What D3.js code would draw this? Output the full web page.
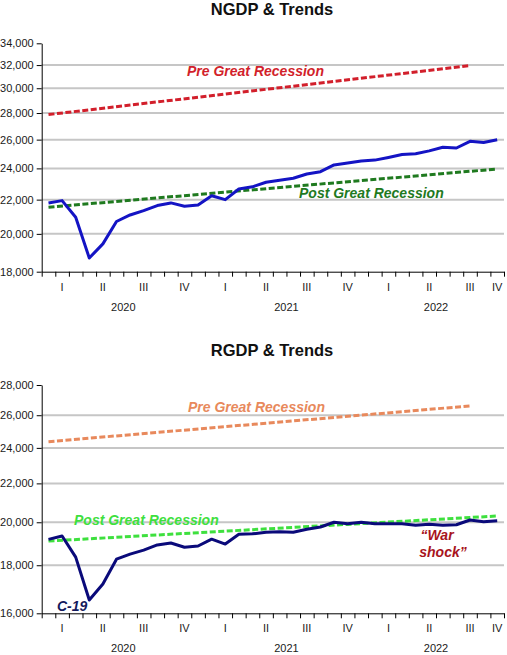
<!DOCTYPE html>
<html><head><meta charset="utf-8">
<script src="https://cdn.jsdelivr.net/npm/d3@7"></script>
<style>
body{margin:0;background:#fff;}
svg text{font-family:"Liberation Sans",Arial,sans-serif;}
</style></head>
<body>
<svg id="c" width="507" height="655"></svg>
<script>
// ---------- data ----------
const months = [
 "2020-01","2020-02","2020-03","2020-04","2020-05","2020-06","2020-07","2020-08","2020-09","2020-10","2020-11","2020-12",
 "2021-01","2021-02","2021-03","2021-04","2021-05","2021-06","2021-07","2021-08","2021-09","2021-10","2021-11","2021-12",
 "2022-01","2022-02","2022-03","2022-04","2022-05","2022-06","2022-07","2022-08","2022-09","2022-10"];
const ngdp = [21800,21940,20950,18700,19450,20700,21080,21340,21640,21800,21600,21670,
              22240,22000,22660,22800,23090,23220,23350,23630,23780,24230,24360,24500,
              24560,24740,24940,25000,25200,25450,25400,25880,25800,25990];
const rgdp = [19180,19340,18360,16530,17190,18270,18500,18680,18920,19010,18810,18870,
              19190,18960,19420,19440,19520,19540,19520,19660,19770,20000,19930,20000,
              19930,19930,19930,19850,19900,19850,19880,20110,20030,20080];
const preTrendN  = [["2020-01",27880],["2022-08",31950]];
const postTrendN = [["2020-01",21540],["2022-10",23960]];
const preTrendR  = [["2020-01",24370],["2022-08",26600]];
const postTrendR = [["2020-01",19100],["2022-10",20310]];
const ticksN = [18000,20000,22000,24000,26000,28000,30000,32000,34000];
const ticksR = [16000,18000,20000,22000,24000,26000,28000];
const quarterLabels = ["I","II","III","IV"];
const years = ["2020","2021","2022"];

// ---------- drawing ----------
const svg = d3.select("#c");
const nM = months.length;
const x = d3.scaleLinear().domain([0, nM]).range([41.7, 504]);
const mi = s => { const [y,m] = s.split("-").map(Number); return (y-2020)*12 + m - 1; };

function panel(cfg){
  const g = svg.append("g");
  const y = d3.scaleLog().domain([cfg.ticks[0], cfg.ticks[cfg.ticks.length-1]]).range([cfg.bottom, cfg.top]);
  // title
  g.append("text").attr("x",272).attr("y",cfg.titleY).attr("text-anchor","middle")
    .attr("font-size","16.5px").attr("font-weight","bold").attr("fill","#111").text(cfg.title);
  // gridlines
  g.selectAll(".grid").data(cfg.ticks.slice(1,-1)).enter().append("line")
    .attr("x1",x(0)).attr("x2",x(nM)).attr("y1",d=>y(d)).attr("y2",d=>y(d))
    .attr("stroke","#c6c6c6").attr("stroke-width",2);
  // y axis
  const ya = g.append("g").attr("transform",`translate(${x(0)},0)`)
    .call(d3.axisLeft(y).tickValues(cfg.ticks).tickFormat(d3.format(",")).tickSize(5).tickSizeOuter(0));
  ya.selectAll("text").attr("font-size","11px").attr("fill","#1a1a1a").attr("x",-8);
  ya.select(".domain").attr("stroke","#000");
  // x axis
  const xa = g.append("g").attr("transform",`translate(0,${cfg.bottom})`)
    .call(d3.axisBottom(x).tickValues(d3.range(0,nM+1)).tickFormat("").tickSize(5).tickSizeOuter(0));
  xa.select(".domain").attr("stroke","#000");
  // quarter labels
  const qs = d3.range(0, Math.ceil(nM/3)).map(q => ({q, c:(q*3 + Math.min(q*3+3,nM))/2}));
  g.selectAll(".ql").data(qs).enter().append("text")
    .attr("x",d=>x(d.c)).attr("y",cfg.bottom+19).attr("text-anchor","middle")
    .attr("font-size","11px").attr("fill","#1a1a1a").text(d=>quarterLabels[d.q%4]);
  g.selectAll(".yl").data(years).enter().append("text")
    .attr("x",(d,i)=>x((i*12 + Math.min(i*12+12,nM))/2)).attr("y",cfg.bottom+39).attr("text-anchor","middle")
    .attr("font-size","11px").attr("fill","#1a1a1a").text(d=>d);
  // trend lines
  const tl = d3.line().x(d=>x(mi(d[0])+0.5)).y(d=>y(d[1]));
  g.append("path").attr("d",tl(cfg.pre)).attr("fill","none").attr("stroke",cfg.preColor)
    .attr("stroke-width",3).attr("stroke-dasharray","6,2.5");
  g.append("path").attr("d",tl(cfg.post)).attr("fill","none").attr("stroke",cfg.postColor)
    .attr("stroke-width",3).attr("stroke-dasharray","6,2.5");
  // data line
  const dl = d3.line().x((d,i)=>x(i+0.5)).y(d=>y(d));
  g.append("path").attr("d",dl(cfg.values)).attr("fill","none").attr("stroke",cfg.lineColor)
    .attr("stroke-width",3).attr("stroke-linejoin","round");
  // labels
  cfg.labels.forEach(l=>{
    g.append("text").attr("x",l.x).attr("y",l.y).attr("text-anchor",l.anchor||"start")
      .attr("font-size",(l.size||14)+"px").attr("font-weight","bold").attr("font-style","italic")
      .attr("fill",l.color).text(l.text);
  });
}

panel({title:"NGDP & Trends", titleY:15, top:43.3, bottom:271.7, ticks:ticksN, values:ngdp,
  pre:preTrendN, post:postTrendN, preColor:"#d21f2b", postColor:"#1f7a1f", lineColor:"#1414c4",
  labels:[
    {text:"Pre Great Recession", x:187, y:76, color:"#d21f2b"},
    {text:"Post Great Recession", x:299, y:197.5, color:"#1f7a1f"}
  ]});

panel({title:"RGDP & Trends", titleY:356, top:385, bottom:613.3, ticks:ticksR, values:rgdp,
  pre:preTrendR, post:postTrendR, preColor:"#e8895c", postColor:"#3ee03e", lineColor:"#0a0a7a",
  labels:[
    {text:"Pre Great Recession", x:188, y:411.5, color:"#e8895c"},
    {text:"Post Great Recession", x:74, y:524.5, color:"#3ee03e"},
    {text:"C-19", x:57, y:611, color:"#141a5c"},
    {text:"\u201CWar", x:437, y:540, color:"#a8141c", anchor:"middle"},
    {text:"shock\u201D", x:443, y:557, color:"#a8141c", anchor:"middle"}
  ]});
</script>
</body></html>
